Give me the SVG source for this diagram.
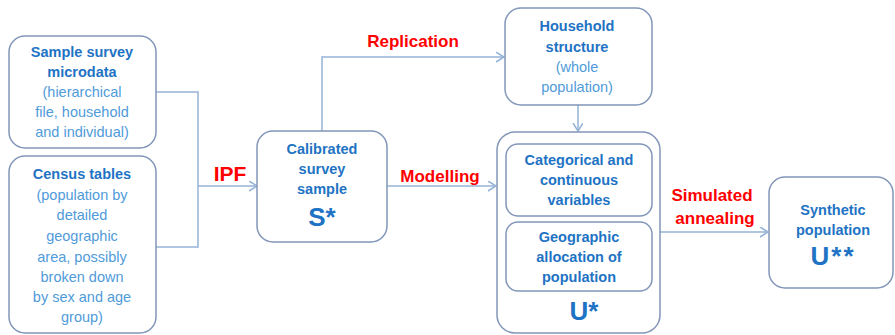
<svg xmlns="http://www.w3.org/2000/svg" width="895" height="335" viewBox="0 0 895 335">
<style>
.box{fill:#fff;stroke:#8196B8;stroke-width:1.5}
.con{fill:none;stroke:#95B3D7;stroke-width:1.5}
text{font-family:"Liberation Sans",Arial,sans-serif;text-anchor:middle}
.h{font-size:14.5px;font-weight:bold;fill:#1E73C4}
.r{font-size:14.5px;fill:#4F9BDA}
.lbl{font-size:17px;font-weight:bold;fill:#FF0000}
.big{font-size:26px;font-weight:bold;fill:#1E73C4}
</style>
<defs>
<marker id="arr" markerWidth="10" markerHeight="12" refX="8" refY="5" orient="auto" markerUnits="userSpaceOnUse">
<path d="M0,0 L8,5 L0,10" fill="none" stroke="#95B3D7" stroke-width="1.5"/>
</marker>
</defs>
<g id="connectors">
<path class="con" d="M156,92 H198 V247 H156"/>
<path class="con" d="M198,186 H257" marker-end="url(#arr)"/>
<path class="con" d="M322,131 V57 H504" marker-end="url(#arr)"/>
<path class="con" d="M578,105 V131" marker-end="url(#arr)"/>
<path class="con" d="M387,186 H496" marker-end="url(#arr)"/>
<path class="con" d="M660,232 H768" marker-end="url(#arr)"/>
<text class="lbl" x="230" y="181" style="font-size:21px">IPF</text>
<text class="lbl" x="413" y="47">Replication</text>
<text class="lbl" x="440" y="182">Modelling</text>
<text class="lbl" x="712" y="201">Simulated</text>
<text class="lbl" x="715" y="224">annealing</text>
</g>
<g id="sample-survey">
<rect class="box" x="9" y="36" width="147" height="112" rx="16"/>
<text class="h" x="82" y="57">Sample survey</text>
<text class="h" x="82" y="77">microdata</text>
<text class="r" x="82" y="97">(hierarchical</text>
<text class="r" x="82" y="117">file, household</text>
<text class="r" x="82" y="137">and individual)</text>
</g>
<g id="census-tables">
<rect class="box" x="9" y="156" width="147" height="177" rx="16"/>
<text class="h" x="82" y="179">Census tables</text>
<text class="r" x="82" y="200">(population by</text>
<text class="r" x="82" y="220">detailed</text>
<text class="r" x="82" y="241">geographic</text>
<text class="r" x="82" y="262">area, possibly</text>
<text class="r" x="82" y="282">broken down</text>
<text class="r" x="82" y="302">by sex and age</text>
<text class="r" x="82" y="322">group)</text>
</g>
<g id="calibrated">
<rect class="box" x="257" y="131" width="130" height="111" rx="16"/>
<text class="h" x="322" y="154">Calibrated</text>
<text class="h" x="322" y="174">survey</text>
<text class="h" x="322" y="194">sample</text>
<text class="big" x="322" y="226">S*</text>
</g>
<g id="household">
<rect class="box" x="505" y="8" width="147" height="97" rx="16"/>
<text class="h" x="577" y="31">Household</text>
<text class="h" x="577" y="52">structure</text>
<text class="r" x="577" y="72">(whole</text>
<text class="r" x="577" y="92">population)</text>
</g>
<g id="u-star">
<rect class="box" x="497" y="132" width="163" height="201" rx="18"/>
<rect class="box" x="506" y="144" width="146" height="72" rx="12"/>
<text class="h" x="579" y="165">Categorical and</text>
<text class="h" x="579" y="185">continuous</text>
<text class="h" x="579" y="205">variables</text>
<rect class="box" x="506" y="222" width="146" height="69" rx="12"/>
<text class="h" x="579" y="242">Geographic</text>
<text class="h" x="579" y="262">allocation of</text>
<text class="h" x="579" y="282">population</text>
<text class="big" x="584" y="320">U*</text>
</g>
<g id="synthetic">
<rect class="box" x="769" y="177" width="124" height="111" rx="16"/>
<text class="h" x="833" y="215">Synthetic</text>
<text class="h" x="833" y="235">population</text>
<text class="big" x="833" y="265" letter-spacing="2">U**</text>
</g>
</svg>
